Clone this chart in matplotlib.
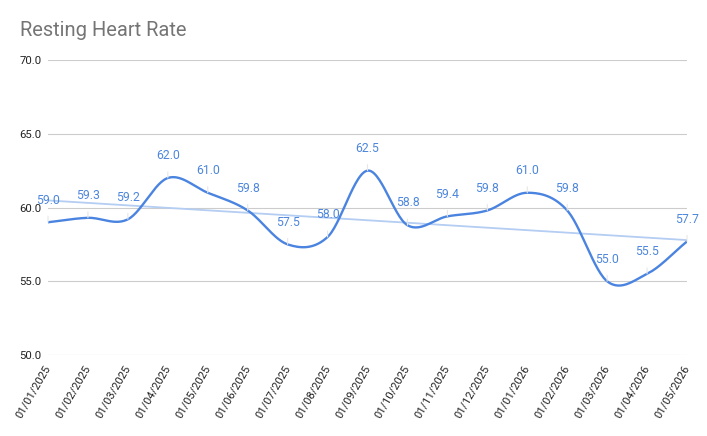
import numpy as np
import matplotlib
matplotlib.use("Agg")
import matplotlib.pyplot as plt

dates = ["01/01/2025", "01/02/2025", "01/03/2025", "01/04/2025", "01/05/2025",
         "01/06/2025", "01/07/2025", "01/08/2025", "01/09/2025", "01/10/2025",
         "01/11/2025", "01/12/2025", "01/01/2026", "01/02/2026", "01/03/2026",
         "01/04/2026", "01/05/2026"]
heart_rate = [59.0, 59.3, 59.2, 62.0, 61.0, 59.8, 57.5, 58.0, 62.5, 58.8,
              59.4, 59.8, 61.0, 59.8, 55.0, 55.5, 57.7]
y_ticks = [50, 55, 60, 65, 70]

LINE = "#4a84e0"
LABEL = "#4d86dc"
plt.rcParams["font.family"] = ["Roboto", "DejaVu Sans"]


def smooth(x, y, n=30):
    # Catmull-Rom style spline through the points
    x = np.asarray(x, float)
    y = np.asarray(y, float)
    m = np.gradient(y, x)
    xs, ys = [], []
    for i in range(len(x) - 1):
        t = np.linspace(0, 1, n, endpoint=False)
        h = x[i + 1] - x[i]
        h00 = 2 * t**3 - 3 * t**2 + 1
        h10 = t**3 - 2 * t**2 + t
        h01 = -2 * t**3 + 3 * t**2
        h11 = t**3 - t**2
        xs.append(x[i] + t * h)
        ys.append(h00 * y[i] + h10 * h * m[i] + h01 * y[i + 1] + h11 * h * m[i + 1])
    xs.append([x[-1]])
    ys.append([y[-1]])
    return np.concatenate(xs), np.concatenate(ys)


x = np.arange(len(dates))
fig = plt.figure(figsize=(7.07, 4.36), dpi=100)
ax = fig.add_axes([48 / 707, 1 - 355 / 436, 639 / 707, 295 / 436])

sx, sy = smooth(x, heart_rate)
ax.plot(sx, sy, color=LINE, lw=1.7, zorder=3, solid_capstyle="round")

# linear trendline
k, b = np.polyfit(x, heart_rate, 1)
ax.plot([x[0], x[-1]], [k * x[0] + b, k * x[-1] + b], color="#b4cdf2", lw=1.3, zorder=2)

for xi, yi in zip(x, heart_rate):
    ax.annotate(f"{yi:.1f}", (xi, yi), xytext=(0, 16), textcoords="offset points",
                ha="center", va="center", color=LABEL, fontsize=8.8, zorder=4,
                arrowprops=dict(arrowstyle="-", color="#e6e6e6", lw=0.8,
                                shrinkA=5, shrinkB=0))

ax.set_xlim(0, len(dates) - 1)
ax.set_ylim(50, 70)
ax.set_yticks(y_ticks)
ax.set_yticklabels([f"{v:.1f}" for v in y_ticks])
ax.set_xticks(x)
ax.set_xticklabels(dates, rotation=60, ha="right", va="center", rotation_mode="anchor")
ax.tick_params(axis="x", length=0, pad=8, labelsize=8, labelcolor="#222222")
ax.tick_params(axis="y", length=0, pad=4.5, labelsize=8.2, labelcolor="#222222")
ax.grid(axis="y", color="#cccccc", lw=0.8)
ax.set_axisbelow(True)
for s in ax.spines.values():
    s.set_visible(False)

fig.text(20 / 707, 1 - 36 / 436, "Resting Heart Rate", color="#757575", fontsize=14.5,
         ha="left", va="baseline")

fig.savefig("out.png", dpi=100)
